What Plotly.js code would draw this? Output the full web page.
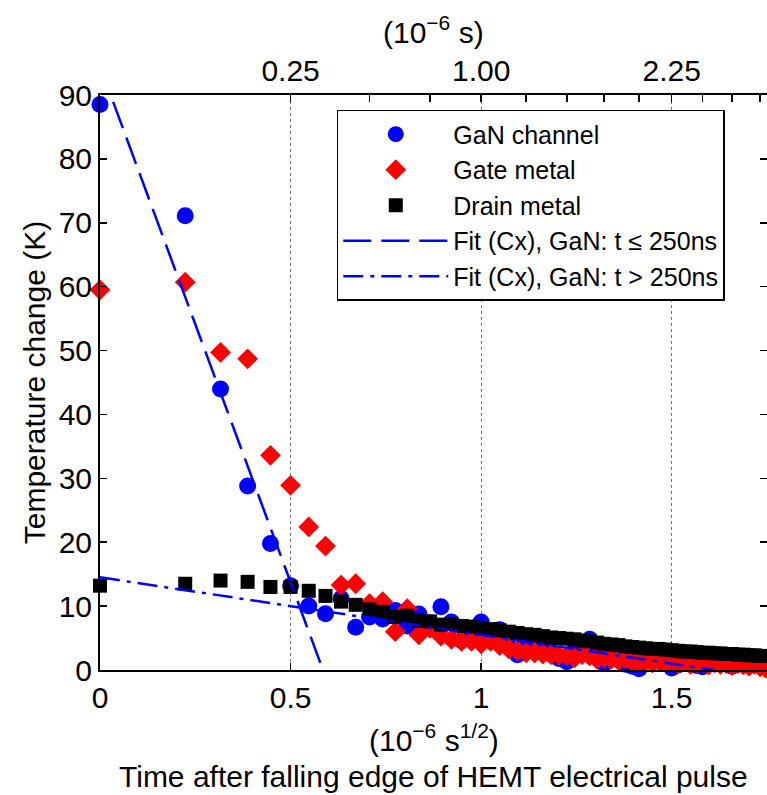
<!DOCTYPE html>
<html>
<head>
<meta charset="utf-8">
<script src="https://cdn.plot.ly/plotly-3.0.1.min.js"></script>
<style>html,body{margin:0;padding:0;background:#fff;}#chart{width:767px;height:795px;}</style>
</head>
<body>
<div id="chart"></div>
<script>
// time after falling edge (microseconds), 50 ns steps
const timeUs = [0,0.05,0.10,0.15,0.20,0.25,0.30,0.35,0.40,0.45,0.50,0.55,0.60,0.65,0.70,0.75,0.80,0.85,0.90,0.95,
  1.00,1.05,1.10,1.15,1.20,1.25,1.30,1.35,1.40,1.45,1.50,1.55,1.60,1.65,1.70,1.75,1.80,1.85,1.90,1.95,
  2.00,2.05,2.10,2.15,2.20,2.25,2.30,2.35,2.40,2.45,2.50,2.55,2.60,2.65,2.70,2.75,2.80,2.85,2.90,2.95,3.00,3.05];
const ganChannel = [88.5,71.1,44.0,28.8,19.8,13.2,10.0,8.8,11.2,6.7, 8.3,8.0,9.3,6.9,8.75,7.4,9.9,7.5,4.6,6.0,
  7.5,5.5,6.3,3.6,2.4,4.0,3.2,4.2,2.5,1.8, 1.3,3.0,3.5,4.8,2.5,1.0,2.2,1.8,0.9,0.6,
  0.2,1.5,1.8,2.2,1.0,0.3,0.8,1.5,1.8,0.7, 0.5,1.2,1.6,1.0,1.4,0.6,0.9,1.5,1.1,0.8, 1.0,0.7];
const gateMetal = [59.5,60.7,49.7,48.7,33.6,28.9,22.4,19.4,13.3,13.5, 10.4,10.7,6.0,9.6,5.5,6.5,5.3,4.8,4.5,4.5,
  4.1,4.5,3.8,3.3,3.0,2.7,2.7,2.5,2.4,2.3, 2.2,1.9,2.4,2.2,1.7,1.9,1.7,1.5,1.8,1.3,
  1.2,1.6,1.1,1.4,1.3,1.2,1.0,1.3,0.9,1.1, 1.2,0.8,1.1,0.9,1.0,0.7,1.0,0.8,0.6,0.9, 0.5,0.3];
const drainMetal = [13.2,13.5,14.0,13.8,13.0,13.0,12.4,11.6,10.7,10.2, 9.5,9.1,8.3,8.5,7.7,7.6,7.1,7.2,6.9,6.8,
  6.5,6.4,6.2,6.0,5.8,5.6,5.5,5.3,5.1,5.0, 4.9,4.8,4.6,4.5,4.3,4.1,4.0,3.9,3.7,3.6,
  3.5,3.4,3.3,3.3,3.2,3.1,3.0,2.9,2.9,2.8, 2.7,2.7,2.6,2.6,2.5,2.5,2.4,2.4,2.3,2.3, 2.2,2.2];
// fit lines (x in sqrt(us), y in K)
const fitShortX = [0, 0.585];
const fitShortY = [94.5, 0];
const fitLongX = [0, 1.611];
const fitLongY = [14.5, 0];
// axes
const bottomTicks = [0, 0.5, 1, 1.5];
const bottomLabels = ['0', '0.5', '1', '1.5'];
const topTimes = [0.25,0.5,0.75,1.0,1.25,1.5,1.75,2.0,2.25,2.5,2.75,3.0];
const topLabels = ['0.25','','','1.00','','','','','2.25','','',''];

const sqrtT = timeUs.map(Math.sqrt);
const FONT = 'Liberation Sans, Arial, Helvetica, sans-serif';

const traces = [
  {x: sqrtT, y: ganChannel, name: 'GaN channel', type: 'scatter', mode: 'markers', cliponaxis: false,
   marker: {symbol: 'circle', color: '#0000ff', size: 17, line: {width: 0}}},
  {x: sqrtT, y: gateMetal, name: 'Gate metal', type: 'scatter', mode: 'markers', cliponaxis: false,
   marker: {symbol: 'diamond', color: '#ff0000', size: 16, line: {width: 0}}},
  {x: sqrtT, y: drainMetal, name: 'Drain metal', type: 'scatter', mode: 'markers', cliponaxis: false,
   marker: {symbol: 'square', color: '#000000', size: 14, line: {width: 0}}},
  {x: fitShortX, y: fitShortY, name: 'Fit (Cx), GaN: t \u2264 250ns', type: 'scatter', mode: 'lines',
   line: {color: '#0000ff', width: 2.5, dash: '28px,10px'}},
  {x: fitLongX, y: fitLongY, name: 'Fit (Cx), GaN: t > 250ns', type: 'scatter', mode: 'lines',
   line: {color: '#0000ff', width: 2.5, dash: '20px,7px,4px,7px'}},
  {x: [null], y: [null], xaxis: 'x2', showlegend: false, hoverinfo: 'skip', mode: 'markers'}
];

const layout = {
  width: 767, height: 795, autosize: false,
  margin: {l: 100, r: 0, t: 95, b: 125},
  paper_bgcolor: '#ffffff', plot_bgcolor: '#ffffff',
  font: {family: FONT, size: 30, color: '#000'},
  showlegend: true,
  legend: {x: 0.355, y: 0.974, xanchor: 'left', yanchor: 'top', bgcolor: '#ffffff',
    bordercolor: '#000', borderwidth: 1.5, font: {family: FONT, size: 25, color: '#000'},
    itemwidth: 105, tracegroupgap: 0},
  xaxis: {range: [0, 1.75], tickmode: 'array', tickvals: bottomTicks, ticktext: bottomLabels,
    ticks: 'inside', ticklen: 7, tickwidth: 1.5, tickcolor: '#000', showline: true, linecolor: '#000', linewidth: 2,
    showgrid: true, gridcolor: '#777', griddash: 'dot', gridwidth: 1, zeroline: false,
    tickfont: {family: FONT, size: 30}, mirror: false},
  xaxis2: {overlaying: 'x', side: 'top', anchor: 'y', range: [0, 1.75], tickmode: 'array',
    tickvals: topTimes.map(Math.sqrt), ticktext: topLabels,
    ticks: 'inside', ticklen: 7, tickwidth: 1.5, tickcolor: '#000', showline: true, linecolor: '#000', linewidth: 2,
    showgrid: false, zeroline: false, tickfont: {family: FONT, size: 30}},
  yaxis: {range: [0, 90], tickmode: 'linear', tick0: 0, dtick: 10,
    ticks: 'inside', ticklen: 7, tickwidth: 1.5, tickcolor: '#000', showline: true, linecolor: '#000', linewidth: 2,
    mirror: 'ticks', showgrid: false, zeroline: false, tickfont: {family: FONT, size: 30},
    title: {text: 'Temperature change (K)', font: {family: FONT, size: 30}, standoff: 4}},
  annotations: [
    {text: '(10<sup>\u22126</sup> s)', xref: 'paper', yref: 'paper', x: 0.5, y: 1.113,
     xanchor: 'center', yanchor: 'middle', showarrow: false, font: {family: FONT, size: 30}},
    {text: '(10<sup>\u22126</sup> s<sup>1/2</sup>)', xref: 'paper', yref: 'paper', x: 0.5, y: -0.118,
     xanchor: 'center', yanchor: 'middle', showarrow: false, font: {family: FONT, size: 30}},
    {text: 'Time after falling edge of HEMT electrical pulse', xref: 'paper', yref: 'paper', x: 0.5, y: -0.186,
     xanchor: 'center', yanchor: 'middle', showarrow: false, font: {family: FONT, size: 30}}
  ]
};

Plotly.newPlot('chart', traces, layout, {displayModeBar: false, staticPlot: true});
</script>
</body>
</html>
